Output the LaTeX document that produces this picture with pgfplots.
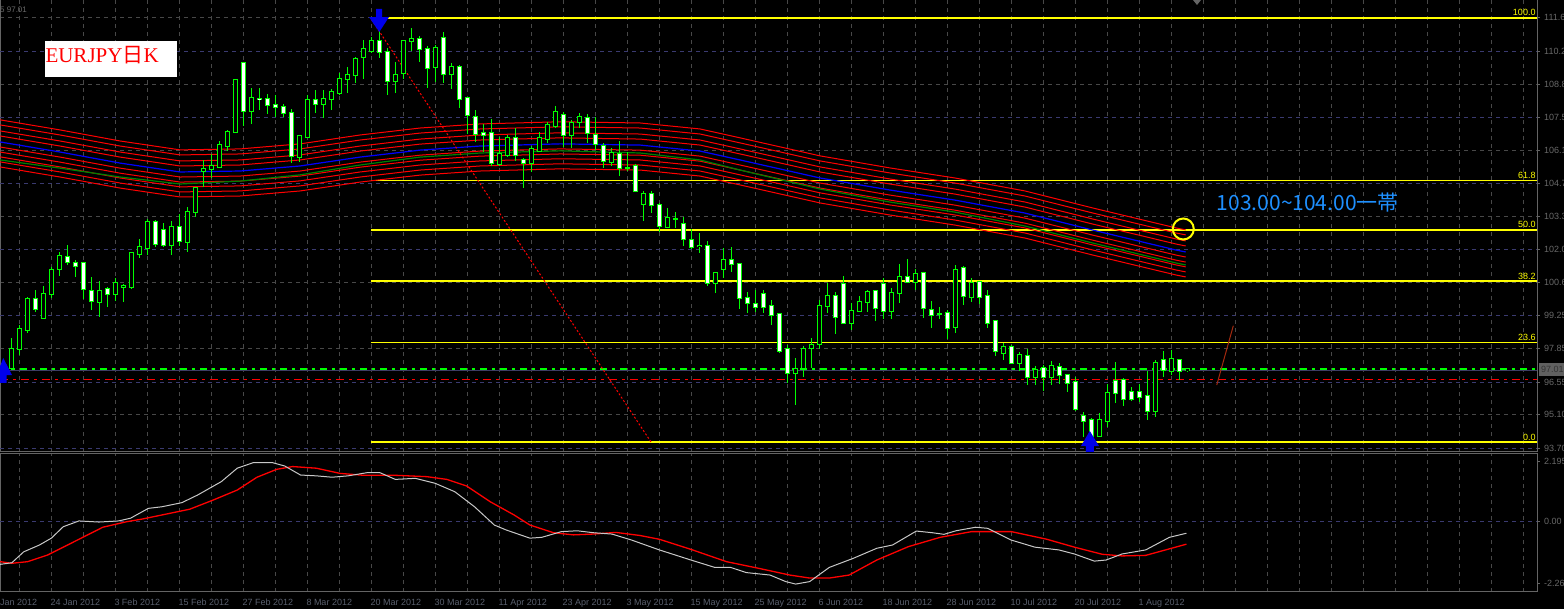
\documentclass[border=0pt]{standalone}
\usepackage{pgfplots}
\pgfplotsset{compat=1.18}
\usepackage{pgfplotstable}
\usepackage{fontspec}
\setmainfont{Liberation Sans}
\newfontfamily\serif{Liberation Serif}
\newfontfamily\cjk{Noto Sans CJK JP}

\definecolor{lime}{RGB}{0,255,0}
\definecolor{gridgray}{RGB}{72,72,72}
\definecolor{gridblue}{RGB}{58,58,112}
\definecolor{framegray}{RGB}{100,100,100}
\definecolor{labgray}{RGB}{105,105,105}
\definecolor{datecol}{RGB}{90,96,110}
\definecolor{fib}{RGB}{255,255,0}
\definecolor{mablue}{RGB}{0,0,255}
\definecolor{magreen}{RGB}{0,128,0}
\definecolor{txtblue}{RGB}{30,144,255}
\definecolor{silver}{RGB}{200,200,200}
\definecolor{arrowblue}{RGB}{0,0,235}
\definecolor{brownred}{RGB}{165,42,15}
\definecolor{bidline}{RGB}{60,60,100}

% daily candles, bar index 0 = 24 Jan 2012
\pgfplotstableread{
i o h l c
-6 97.12 97.22 96.95 97.13
-5 97.04 98.27 96.95 97.82
-4 97.81 98.82 97.57 98.64
-3 98.61 100.00 98.47 99.89
-2 99.89 100.28 99.38 99.47
-1 99.10 100.44 99.06 100.10
0 100.10 101.25 99.96 101.11
1 101.14 101.85 100.86 101.71
2 101.66 102.15 101.32 101.43
3 101.42 101.53 100.83 101.29
4 101.39 101.42 99.89 100.30
5 100.25 100.83 99.44 99.82
6 99.79 100.67 99.17 100.25
7 100.30 100.42 99.56 100.10
8 100.10 100.79 99.82 100.55
9 100.42 100.53 99.79 100.44
10 100.39 101.87 100.30 101.80
11 101.76 102.40 101.60 102.05
12 102.01 103.22 101.73 103.09
13 103.09 103.19 102.08 102.18
14 102.77 103.05 102.08 102.14
15 102.14 103.14 101.75 102.89
16 102.89 103.44 102.12 102.30
17 102.29 103.75 101.85 103.51
18 103.51 104.58 103.33 104.51
19 105.22 105.69 104.58 105.30
20 105.30 105.94 104.93 105.44
21 105.41 106.49 105.38 106.30
22 106.29 106.94 106.08 106.87
23 106.87 109.05 106.80 109.01
24 109.71 109.78 107.10 107.71
25 107.73 108.67 107.19 108.26
26 108.24 108.67 107.77 108.23
27 108.21 108.42 107.60 107.96
28 107.96 108.39 107.49 107.91
29 107.91 108.01 107.49 107.66
30 107.66 107.81 105.58 105.86
31 105.83 106.74 105.62 106.69
32 106.66 108.39 106.63 108.19
33 108.19 108.60 107.63 108.01
34 108.02 108.60 107.42 108.23
35 108.21 108.63 107.77 108.52
36 108.46 109.30 108.40 109.05
37 109.05 109.55 108.49 109.21
38 109.21 109.96 108.91 109.88
39 109.99 110.68 109.06 110.30
40 110.24 110.80 110.13 110.63
41 110.63 111.35 109.95 110.17
42 110.17 110.37 108.39 108.98
43 108.96 109.75 108.49 109.21
44 109.30 110.70 109.08 110.63
45 110.63 111.17 110.24 110.71
46 110.71 110.85 109.78 110.30
47 110.30 110.43 108.70 109.51
48 109.55 110.48 108.95 110.34
49 110.75 111.03 108.88 109.26
50 109.26 109.71 108.63 109.55
51 109.55 109.64 107.84 108.21
52 108.26 108.33 106.77 107.55
53 107.49 107.77 106.45 106.76
54 106.83 107.17 106.04 106.73
55 106.83 107.40 105.45 105.55
56 105.51 106.66 105.45 105.94
57 105.90 106.73 105.83 106.62
58 106.62 107.01 105.65 105.90
59 105.67 105.76 104.54 105.55
60 105.58 106.29 105.20 106.13
61 106.08 106.84 106.04 106.62
62 106.55 107.28 106.41 107.13
63 107.12 107.94 107.01 107.67
64 107.55 107.70 106.24 106.72
65 106.72 107.35 106.20 107.22
66 107.26 107.63 107.04 107.47
67 107.42 107.59 106.41 106.80
68 106.74 107.47 106.11 106.34
69 106.29 106.41 105.37 105.65
70 105.62 106.17 105.45 105.97
71 105.92 106.48 105.02 105.34
72 105.34 106.04 105.24 105.34
73 105.44 105.52 104.34 104.40
74 103.84 104.40 103.16 104.27
75 104.27 104.40 103.47 103.82
76 103.80 103.88 102.68 102.93
77 102.91 103.68 102.87 103.26
78 103.22 103.52 102.87 103.22
79 103.01 103.30 102.12 102.39
80 102.34 102.80 101.97 102.08
81 102.10 102.66 101.83 102.11
82 102.11 102.32 100.46 100.55
83 100.55 101.00 100.14 100.97
84 101.14 102.01 100.79 101.53
85 101.53 102.05 101.04 101.35
86 101.35 101.41 99.47 99.93
87 99.93 100.18 99.31 99.72
88 99.69 100.28 99.38 99.58
89 100.10 100.28 99.31 99.58
90 99.61 99.86 98.82 99.24
91 99.27 99.31 97.67 97.75
92 97.81 97.99 96.42 96.81
93 96.81 97.43 95.49 96.98
94 97.04 97.95 96.67 97.81
95 97.85 98.27 97.02 97.97
96 98.02 99.86 97.81 99.63
97 99.63 100.56 99.31 100.03
98 100.03 100.21 98.45 99.14
99 100.51 100.86 98.86 98.89
100 98.89 99.72 98.61 99.42
101 99.42 100.03 99.38 99.76
102 99.76 100.28 99.38 100.18
103 100.24 100.28 99.00 99.51
104 100.51 100.76 99.06 99.42
105 99.40 100.35 99.06 100.14
106 100.14 101.35 99.75 100.83
107 100.83 101.55 100.56 100.60
108 100.60 101.14 100.28 100.93
109 100.97 101.04 99.10 99.51
110 99.45 99.82 98.68 99.24
111 99.28 99.58 99.06 99.28
112 99.31 99.45 98.24 98.71
113 98.75 101.32 98.47 101.11
114 101.18 101.28 99.65 100.01
115 100.00 100.76 99.79 100.56
116 100.60 100.63 99.70 99.97
117 100.03 100.28 98.68 98.92
118 98.97 99.03 97.53 97.72
119 97.67 98.09 97.36 97.89
120 97.92 97.97 97.20 97.22
121 97.22 97.70 96.92 97.56
122 97.52 97.81 96.32 96.64
123 96.64 97.11 96.32 96.95
124 97.02 97.16 96.07 96.67
125 96.67 97.32 96.32 97.11
126 97.09 97.22 96.36 96.74
127 96.73 96.78 96.05 96.42
128 96.45 96.64 95.25 95.31
129 95.05 95.19 94.17 94.82
130 94.87 94.93 94.03 94.20
131 94.21 95.14 94.14 94.87
132 94.84 96.36 94.59 95.98
133 96.49 97.29 95.56 95.98
134 96.53 96.60 95.45 95.73
135 96.02 96.23 95.67 95.73
136 96.02 96.36 95.63 95.84
137 95.85 96.92 94.87 95.25
138 95.25 97.36 94.98 97.22
139 97.35 97.75 96.64 96.95
140 96.92 97.78 96.74 97.39
141 97.36 97.39 96.53 96.92
142 96.95 97.00 96.86 96.98
}\candles

% moving average ribbon
\pgfplotstableread{
i r1 r2 r3 r4 b r5 r6 r7 r8 r9 g
-6.4 107.36 107.15 106.90 106.69 106.44 106.23 106.02 105.82 105.61 105.40 105.69
1.1 106.94 106.73 106.48 106.27 106.02 105.81 105.60 105.40 105.19 104.98 105.35
8.6 106.48 106.27 106.02 105.81 105.56 105.35 105.14 104.94 104.73 104.52 104.98
16.1 106.11 105.90 105.65 105.44 105.19 104.98 104.77 104.57 104.36 104.15 104.69
23.6 106.15 105.94 105.69 105.48 105.23 105.02 104.81 104.61 104.40 104.19 104.81
31.1 106.36 106.15 105.90 105.69 105.44 105.23 105.02 104.82 104.61 104.40 105.07
38.6 106.73 106.52 106.27 106.06 105.81 105.60 105.39 105.19 104.98 104.77 105.48
46.1 107.02 106.81 106.56 106.35 106.10 105.89 105.68 105.48 105.27 105.06 105.81
53.6 107.19 106.98 106.73 106.52 106.27 106.06 105.85 105.65 105.44 105.23 105.98
63.6 107.28 107.07 106.82 106.61 106.36 106.15 105.94 105.74 105.53 105.32 106.07
73.6 107.23 107.02 106.77 106.56 106.31 106.10 105.89 105.69 105.48 105.27 105.98
81.1 106.98 106.77 106.52 106.31 106.06 105.85 105.64 105.44 105.23 105.02 105.69
86.1 106.61 106.40 106.15 105.94 105.69 105.48 105.27 105.07 104.86 104.65 105.27
96.1 105.86 105.65 105.40 105.19 104.94 104.73 104.52 104.32 104.11 103.90 104.48
104.8 105.36 105.15 104.90 104.69 104.44 104.23 104.02 103.82 103.61 103.40 103.94
112.95 104.94 104.73 104.48 104.27 104.02 103.81 103.60 103.40 103.19 102.98 103.52
121.7 104.40 104.19 103.94 103.73 103.48 103.27 103.06 102.86 102.65 102.44 102.94
130.2 103.69 103.48 103.23 103.02 102.77 102.56 102.35 102.15 101.94 101.73 102.23
140.6 102.86 102.65 102.40 102.19 101.94 101.73 101.52 101.32 101.11 100.90 101.40
141.8 102.78 102.57 102.32 102.11 101.86 101.65 101.44 101.24 101.03 100.82 101.32
}\ribbon

% oscillator (white) and its signal (red)
\pgfplotstableread{
i v
-6.41 -1.57
-4.93 -1.51
-3.45 -1.11
-1.48 -0.86
0.01 -0.61
1.5 -0.19
3.46 0.02
5.95 -0.02
8.41 0.02
9.9 0.12
12.13 0.48
13.85 0.54
16.33 0.69
18.3 0.97
21.26 1.46
23.24 1.95
25.21 2.15
27.69 2.15
29.18 2.03
31.15 1.70
33.13 1.67
35.1 1.62
37.09 1.67
39.55 1.79
41.04 1.79
43.01 1.54
45.49 1.58
47.96 1.40
50.43 1.09
52.9 0.54
55.38 -0.13
56.85 -0.31
59.83 -0.61
61.3 -0.58
63.78 -0.37
65.75 -0.34
67.73 -0.41
70.08 -0.46
72.54 -0.68
76.0 -1.04
79.95 -1.41
82.93 -1.68
84.9 -1.68
86.88 -1.87
89.84 -1.96
91.81 -2.20
93.05 -2.29
94.79 -2.20
97.25 -1.68
100.23 -1.35
103.19 -0.98
105.16 -0.86
108.13 -0.35
110.1 -0.41
111.59 -0.47
113.08 -0.34
115.54 -0.21
117.03 -0.25
119.99 -0.68
122.96 -0.94
125.93 -1.04
127.9 -1.19
130.38 -1.45
131.85 -1.41
133.83 -1.19
136.8 -1.04
139.76 -0.58
141.89 -0.43
}\oscmain

\pgfplotstableread{
i v
-6.41 -1.47
-4.93 -1.53
-2.95 -1.47
-0.49 -1.23
1.5 -0.94
3.46 -0.65
6.44 -0.21
9.4 -0.01
11.38 0.09
14.35 0.27
17.31 0.45
20.28 0.79
23.24 1.15
25.71 1.62
28.19 1.91
30.16 2.01
33.13 1.95
36.09 1.76
39.06 1.69
43.01 1.69
46.96 1.64
49.44 1.54
51.91 1.30
54.88 0.72
57.84 0.24
59.83 -0.13
62.76 -0.41
65.26 -0.49
67.73 -0.46
70.56 -0.40
73.53 -0.51
76.0 -0.65
79.95 -1.02
84.4 -1.47
88.36 -1.71
92.31 -1.96
94.79 -2.07
97.25 -2.07
99.73 -1.96
103.19 -1.41
107.14 -0.92
111.1 -0.58
115.05 -0.37
119.99 -0.37
124.44 -0.65
127.9 -0.94
131.36 -1.20
133.83 -1.26
136.8 -1.24
139.28 -1.04
141.89 -0.83
}\oscsig

\tikzset{
  mtgrid/.style={dash pattern=on 4pt off 4pt, draw=gridgray, line width=0.8pt},
  mtgridblue/.style={dash pattern=on 4pt off 4pt, draw=gridblue, line width=0.8pt},
  pricelab/.style={font=\fontsize{9}{10}\selectfont, text=labgray, inner sep=0pt, xshift=4pt},
}

\begin{document}
\begin{tikzpicture}
\fill[black] (0,0) rectangle (1564pt,609pt);
\useasboundingbox (0,0) rectangle (1564pt,609pt);

% ---------------- price window ----------------
\begin{axis}[
  at={(0pt,157pt)}, anchor=south west, scale only axis,
  width=1537pt, height=452pt,
  xmin=-6.4125, xmax=185.7125, ymin=93.533, ymax=112.35,
  axis line style={draw=framegray, line width=1pt},
  xtick={0,8,...,184}, minor xtick={-4,4,...,180}, xticklabels={},
  major x tick style={draw=none}, minor x tick style={draw=none},
  xmajorgrids, xminorgrids, ymajorgrids,
  major grid style={mtgrid}, minor grid style={mtgrid},
  ytick pos=right, yticklabel pos=right,
  ytick={95.08,97.83,100.59,103.34,106.10,108.85,111.61},
  yticklabels={95.10,97.85,100.6,103.3,106.1,108.8,111.6},
  extra y ticks={93.70,96.45,99.21,101.97,104.72,107.48,110.23},
  extra y tick labels={93.70,96.55,99.25,102.0,104.7,107.5,110.2},
  extra y tick style={major grid style={mtgridblue}},
  yticklabel style={pricelab},
  major y tick style={draw=framegray, line width=0.8pt},
  tick align=outside, major tick length=3pt,
]
% fibonacci levels
\addplot[fib, line width=1.5pt] coordinates {(39.96,111.59) (185.71,111.59)};
\addplot[fib, line width=1.5pt] coordinates {(39.96,104.84) (185.71,104.84)};
\addplot[fib, line width=1.5pt] coordinates {(39.96,102.77) (185.71,102.77)};
\addplot[fib, line width=1.5pt] coordinates {(39.96,100.65) (185.71,100.65)};
\addplot[fib, line width=1.5pt] coordinates {(39.96,98.10) (185.71,98.10)};
\addplot[fib, line width=1.5pt] coordinates {(39.96,93.94) (185.71,93.94)};
% ribbon
\pgfplotsinvokeforeach{r1,r2,r3,r4,r5,r6,r7,r8,r9}{
  \addplot[red, line width=1pt] table[x=i, y=#1] {\ribbon};
}
\addplot[magreen, line width=1.2pt] table[x=i, y=g] {\ribbon};
\addplot[mablue, line width=1.2pt] table[x=i, y=b] {\ribbon};
% bid / ask style lines
\addplot[bidline, line width=1pt] coordinates {(-6.4125,96.94) (185.71,96.94)};
\addplot[lime, line width=2pt, dash pattern=on 7pt off 5pt on 3pt off 5pt] coordinates {(-6.4125,96.98) (185.71,96.98)};
\addplot[red, line width=1pt, dash pattern=on 8pt off 5pt on 3pt off 5pt] coordinates {(-6.4125,96.56) (185.71,96.56)};
% trend line
\addplot[red, line width=1pt, dash pattern=on 2pt off 2pt] coordinates {(40.05,111.52) (74.96,93.95)};
\addplot[brownred, line width=1pt] coordinates {(145.68,96.32) (147.75,98.79)};
% candles: wicks, outline, body
\addplot[draw=none, mark=none, error bars/.cd, y dir=both, y explicit, error mark=none,
  error bar style={draw=lime, line width=1pt, solid}]
  table[x=i, y expr=(\thisrow{h}+\thisrow{l})/2, y error expr=(\thisrow{h}-\thisrow{l})/2] {\candles};
\addplot[draw=none, mark=none, error bars/.cd, y dir=both, y explicit, error mark=none,
  error bar style={draw=lime, line width=5pt, solid, line cap=butt}]
  table[x=i, y expr=(\thisrow{o}+\thisrow{c})/2, y error expr=abs(\thisrow{c}-\thisrow{o})/2+0.042] {\candles};
\addplot[draw=none, mark=none, restrict expr to domain={\thisrow{o}-\thisrow{c}}{0:100},
  error bars/.cd, y dir=both, y explicit, error mark=none,
  error bar style={draw=white, line width=3pt, solid, line cap=butt}]
  table[x=i, y expr=(\thisrow{o}+\thisrow{c})/2, y error expr=abs(\thisrow{c}-\thisrow{o})/2] {\candles};
\addplot[draw=none, mark=none, restrict expr to domain={\thisrow{c}-\thisrow{o}}{0.005:100},
  error bars/.cd, y dir=both, y explicit, error mark=none,
  error bar style={draw=black, line width=3pt, solid, line cap=butt}]
  table[x=i, y expr=(\thisrow{o}+\thisrow{c})/2, y error expr=abs(\thisrow{c}-\thisrow{o})/2] {\candles};
% fractal arrows
\addplot[fill=arrowblue, draw=none] coordinates {(40.59,111.98) (41.34,111.98) (41.34,111.64) (42.21,111.64) (41.0,111.02) (39.71,111.64) (40.59,111.64)} -- cycle;
\addplot[fill=arrowblue, draw=none] coordinates {(129.33,93.53) (130.33,93.53) (130.33,93.78) (130.96,93.78) (129.81,94.41) (128.71,93.78) (129.33,93.78)} -- cycle;
\addplot[fill=arrowblue, draw=none] coordinates {(-6.41,96.41) (-5.6,96.41) (-5.6,96.73) (-4.91,96.73) (-6.0,97.45) (-6.41,97.1)} -- cycle;
\end{axis}

% ---------------- oscillator window ----------------
\begin{axis}[
  at={(0pt,17pt)}, anchor=south west, scale only axis,
  width=1537pt, height=138pt,
  xmin=-6.4125, xmax=185.7125, ymin=-2.58, ymax=2.47,
  axis line style={draw=framegray, line width=1pt},
  xtick={0,8,...,184}, minor xtick={-4,4,...,180},
  xticklabels={24 Jan 2012,3 Feb 2012,15 Feb 2012,27 Feb 2012,8 Mar 2012,20 Mar 2012,30 Mar 2012,11 Apr 2012,23 Apr 2012,3 May 2012,15 May 2012,25 May 2012,6 Jun 2012,18 Jun 2012,28 Jun 2012,10 Jul 2012,20 Jul 2012,1 Aug 2012,{},{},{},{},{},{}},
  xticklabel style={anchor=north west, inner sep=0pt, yshift=-4pt, xshift=-1pt,
    font=\fontsize{9}{10}\selectfont, text=datecol},
  major x tick style={draw=none}, minor x tick style={draw=none},
  xmajorgrids, xminorgrids,
  major grid style={mtgrid}, minor grid style={mtgrid},
  ytick pos=right, yticklabel pos=right,
  ytick={-2.26,2.195}, yticklabels={-2.26,2.195},
  extra y ticks={0}, extra y tick labels={0.00},
  extra y tick style={ymajorgrids, major grid style={mtgridblue}},
  yticklabel style={pricelab},
  major y tick style={draw=framegray, line width=0.8pt},
  tick align=outside, major tick length=3pt,
]
\addplot[red, line width=1.3pt] table[x=i, y=v] {\oscsig};
\addplot[silver, line width=1pt] table[x=i, y=v] {\oscmain};
\end{axis}

% ---------------- annotations in pixel units ----------------
\begin{scope}[shift={(0pt,609pt)}, x=1pt, y=-1pt]
  \node[anchor=north west, inner sep=0pt, font=\fontsize{9}{10}\selectfont, text=datecol] at (0,599.5) {Jan 2012};
  \node[anchor=west, inner sep=0pt, font=\fontsize{8}{9}\selectfont, text=labgray] at (0,9.5) {5 97.01};
  \fill[white] (45,41) rectangle (176.7,76.7);
  \node[anchor=base west, inner sep=0pt, text=red] at (45.3,63)
    {\serif\fontsize{21}{21}\selectfont EURJPY{\cjk 日}K};
  \node[anchor=base west, inner sep=0pt, text=txtblue] at (1216.7,210.7)
    {\cjk\fontsize{21}{21}\selectfont 103.00\textasciitilde104.00一帯};
  \draw[fib, line width=2pt] (1183.3,229) circle[radius=10.5pt];
  \foreach \yy/\tt in {18.3/100.0, 180.5/61.8, 230/50.0, 281.5/38.2, 342.3/23.6, 442.3/0.0}
    \node[anchor=south east, inner sep=0pt, font=\fontsize{9}{10}\selectfont, text=fib] at (1535.7,\yy-2) {\tt};
  \fill[gray!75!black] (1538.5,363) rectangle (1564,376);
  \node[anchor=west, inner sep=0pt, font=\fontsize{9}{10}\selectfont, text=black!80] at (1541,369.5) {97.01};
  \fill[framegray] (1193,0) -- (1201,0) -- (1197,5) -- cycle;
\end{scope}
\end{tikzpicture}
\end{document}
